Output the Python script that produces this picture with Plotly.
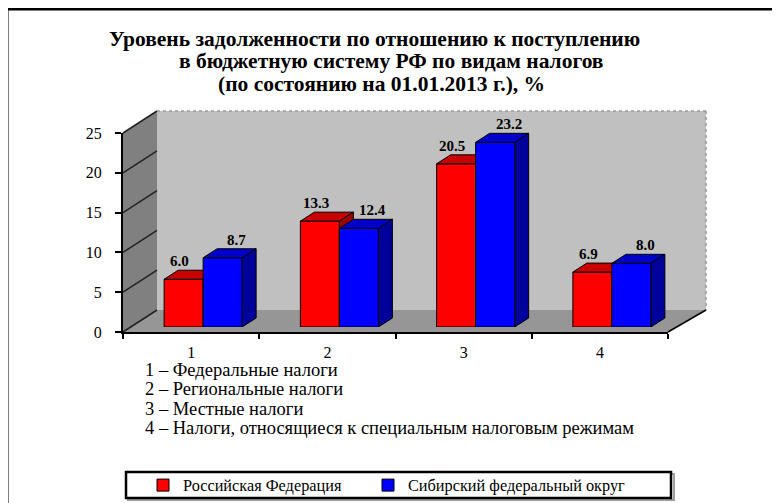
import plotly.graph_objects as go

# ---------------- data ----------------
categories = ["1", "2", "3", "4"]
rf_values = [6.0, 13.3, 20.5, 6.9]
sfo_values = [8.7, 12.4, 23.2, 8.0]
series_names = ["Российская Федерация", "Сибирский федеральный округ"]
y_ticks = [0, 5, 10, 15, 20, 25]
title_lines = [
    "Уровень задолженности по отношению к поступлению",
    "в бюджетную систему РФ по видам налогов",
    "(по состоянию на 01.01.2013 г.), %",
]
note_lines = [
    "1 – Федеральные налоги",
    "2 – Региональные налоги",
    "3 – Местные налоги",
    "4 – Налоги, относящиеся к специальным налоговым режимам",
]

# ---------------- layout constants (pixels) ----------------
W, H = 780, 503
OFF_X, OFF_Y = 8, 8   # page body margin
FONT = "Liberation Serif"


def fx(px):
    return (px - OFF_X) / W


def fy(py):
    return 1 - (py - OFF_Y) / H


FRONT_L, FRONT_R, FRONT_B, FRONT_T = 123, 668, 332, 133   # front axes
BACK_L, BACK_R, BACK_B, BACK_T = 157, 706, 310, 111       # back wall
BAR_DX, BAR_DY = 12, -5                                   # bar plane offset
YMAX = 25
NCAT = len(categories)
px_per_cat = (FRONT_R - FRONT_L) / NCAT
px_per_unit = (FRONT_B - FRONT_T) / YMAX
BAR_W = 39 / px_per_cat          # bar width in category units
DEPTH_X = 14 / px_per_cat        # bar depth (x) in data units
DEPTH_Y = 9 / px_per_unit        # bar depth (y) in data units

RED, RED_TOP, RED_SIDE = "#FF0000", "#C80000", "#A00000"
BLUE, BLUE_TOP, BLUE_SIDE = "#0000FF", "#0000C8", "#00009A"

fig = go.Figure()

# invisible trace for the front category axis
fig.add_trace(go.Scatter(x=categories, y=[0] * NCAT, xaxis="x2", yaxis="y2",
                         mode="markers", marker=dict(opacity=0),
                         showlegend=False, hoverinfo="skip"))

xnum = list(range(1, NCAT + 1))


def add_series(values, name, front, top, side, offset, xa, ya, legend):
    fig.add_trace(go.Bar(x=xnum, y=values, name=name, width=BAR_W, offset=offset,
                         marker=dict(color=front, line=dict(color="black", width=1)),
                         xaxis=xa, yaxis=ya, showlegend=True, legend=legend))
    for c, v in zip(xnum, values):
        left = c + offset
        right = left + BAR_W
        tx = [left, right, right + DEPTH_X, left + DEPTH_X, left]
        ty = [v, v, v + DEPTH_Y, v + DEPTH_Y, v]
        fig.add_trace(go.Scatter(x=tx, y=ty, fill="toself", fillcolor=top, mode="lines",
                                 line=dict(color="black", width=1), xaxis=xa, yaxis=ya,
                                 showlegend=False, hoverinfo="skip"))
        sx = [right, right + DEPTH_X, right + DEPTH_X, right, right]
        sy = [0, DEPTH_Y, v + DEPTH_Y, v, 0]
        fig.add_trace(go.Scatter(x=sx, y=sy, fill="toself", fillcolor=side, mode="lines",
                                 line=dict(color="black", width=1), xaxis=xa, yaxis=ya,
                                 showlegend=False, hoverinfo="skip"))


add_series(rf_values, series_names[0], RED, RED_TOP, RED_SIDE, -BAR_W, "x3", "y3", "legend")
add_series(sfo_values, series_names[1], BLUE, BLUE_TOP, BLUE_SIDE, 0, "x4", "y4", "legend2")

# value labels
annotations = []
for c, v in zip(xnum, rf_values):
    annotations.append(dict(x=c - BAR_W / 2, y=v, xref="x3", yref="y3", text=f"<b>{v:.1f}</b>",
                            showarrow=False, xshift=-4, yshift=18,
                            font=dict(family=FONT, size=15, color="black")))
for c, v in zip(xnum, sfo_values):
    annotations.append(dict(x=c + BAR_W / 2, y=v, xref="x3", yref="y3", text=f"<b>{v:.1f}</b>",
                            showarrow=False, xshift=14, yshift=18,
                            font=dict(family=FONT, size=15, color="black")))

# title
title_pos = [(374, 39.5), (391, 61.5), (381, 84)]
for t, (px, py) in zip(title_lines, title_pos):
    annotations.append(dict(x=fx(px), y=fy(py), xref="paper", yref="paper", text=f"<b>{t}</b>",
                            showarrow=False, xanchor="center", yanchor="middle",
                            font=dict(family=FONT, size=21.5, color="black")))

# notes
for i, t in enumerate(note_lines):
    annotations.append(dict(x=fx(143), y=fy(370 + i * 19.4), xref="paper", yref="paper", text=t,
                            showarrow=False, xanchor="left", yanchor="middle",
                            font=dict(family=FONT, size=18.5, color="black")))

# ---------------- background shapes ----------------
shapes = []


def poly(pts, fill, line_color=None, width=0, layer="below", dash=None):
    path = "M" + " L".join(f"{fx(x):.5f},{fy(y):.5f}" for x, y in pts) + " Z"
    shapes.append(dict(type="path", path=path, xref="paper", yref="paper",
                       fillcolor=fill, line=dict(color=line_color or fill, width=width, dash=dash),
                       layer=layer))


def seg(x0, y0, x1, y1, color="black", width=1.5, dash=None, layer="below"):
    shapes.append(dict(type="line", xref="paper", yref="paper", x0=fx(x0), y0=fy(y0),
                       x1=fx(x1), y1=fy(y1), line=dict(color=color, width=width, dash=dash),
                       layer=layer))


poly([(BACK_L, BACK_T), (BACK_R, BACK_T), (BACK_R, BACK_B), (BACK_L, BACK_B)], "#C0C0C0")
poly([(FRONT_L, FRONT_B), (FRONT_L, FRONT_T), (BACK_L, BACK_T), (BACK_L, BACK_B)], "#808080")
poly([(FRONT_L, FRONT_B), (FRONT_R, FRONT_B), (BACK_R, BACK_B), (BACK_L, BACK_B)], "#969696")
back_unit = (BACK_B - BACK_T) / YMAX
for v in y_ticks:
    seg(FRONT_L, FRONT_B - v * px_per_unit, BACK_L, BACK_B - v * back_unit, color="#222222", width=1.5)
seg(BACK_L, BACK_T, BACK_R, BACK_T, color="#999999", width=1.5, dash="dot")
seg(BACK_R, BACK_T, BACK_R, BACK_B, color="#999999", width=1.5, dash="dot")
seg(FRONT_R, FRONT_B, BACK_R, BACK_B, color="black", width=1.5)

# legend box (shadow + frame)
shapes.append(dict(type="rect", xref="paper", yref="paper", x0=fx(128), x1=fx(674), y0=fy(500), y1=fy(474),
                   line=dict(color="#A0A0A0", width=2), fillcolor="rgba(0,0,0,0)", layer="below"))
shapes.append(dict(type="rect", xref="paper", yref="paper", x0=fx(126), x1=fx(671), y0=fy(498), y1=fy(472),
                   line=dict(color="black", width=2.5), fillcolor="white", layer="below"))
# outer frame
shapes.append(dict(type="rect", xref="paper", yref="paper", x0=fx(7), x1=1.05, y0=-0.05, y1=fy(9),
                   line=dict(color="black", width=3), fillcolor="rgba(0,0,0,0)", layer="above"))

legend_common = dict(orientation="h", y=fy(485.5), xanchor="left", yanchor="middle",
                     bgcolor="rgba(0,0,0,0)", borderwidth=0,
                     font=dict(family=FONT, size=16.3, color="black"))

hidden = dict(visible=False, fixedrange=True)
fig.update_layout(
    width=W, height=H,
    margin=dict(l=0, r=0, t=0, b=0, autoexpand=False),
    paper_bgcolor="white", plot_bgcolor="rgba(0,0,0,0)",
    font=dict(family=FONT, color="black"),
    # back wall grid
    xaxis=dict(domain=[fx(BACK_L), fx(BACK_R)], range=[0, 1], visible=False, fixedrange=True),
    yaxis=dict(domain=[fy(BACK_B), fy(BACK_T)], range=[0, YMAX], anchor="x", showgrid=True,
               tickvals=y_ticks[1:-1], gridcolor="#222222", gridwidth=1.5, zeroline=False,
               showticklabels=False, ticks="", showline=False, fixedrange=True),
    # front axes
    xaxis2=dict(domain=[fx(FRONT_L), fx(FRONT_R)], type="category", categoryarray=categories,
                range=[-0.5, NCAT - 0.5], anchor="y2", tickson="boundaries", ticks="outside",
                ticklen=5, tickwidth=2, tickcolor="black", showline=True, linecolor="black",
                linewidth=2, showgrid=False, ticklabelstandoff=5,
                tickfont=dict(family=FONT, size=16, color="black"), fixedrange=True),
    yaxis2=dict(domain=[fy(FRONT_B), fy(FRONT_T)], range=[0, YMAX], anchor="x2", tickvals=y_ticks,
                ticks="outside", ticklen=6, tickwidth=2, tickcolor="black", showline=True,
                linecolor="black", linewidth=2, showgrid=False, zeroline=False,
                ticklabelstandoff=10, tickfont=dict(family=FONT, size=16, color="black"),
                fixedrange=True),
    # bar planes
    xaxis3=dict(domain=[fx(FRONT_L + BAR_DX), fx(FRONT_R + BAR_DX)], range=[0.5, NCAT + 0.5],
                anchor="y3", **hidden),
    yaxis3=dict(domain=[fy(FRONT_B + BAR_DY), fy(FRONT_T + BAR_DY)], range=[0, YMAX],
                anchor="x3", **hidden),
    xaxis4=dict(overlaying="x3", range=[0.5, NCAT + 0.5], anchor="y4", **hidden),
    yaxis4=dict(overlaying="y3", range=[0, YMAX], anchor="x4", **hidden),
    barmode="overlay",
    showlegend=True,
    legend=dict(x=fx(143), **legend_common),
    legend2=dict(x=fx(368), **legend_common),
    annotations=annotations,
    shapes=shapes,
)

fig.write_html("out.html")
